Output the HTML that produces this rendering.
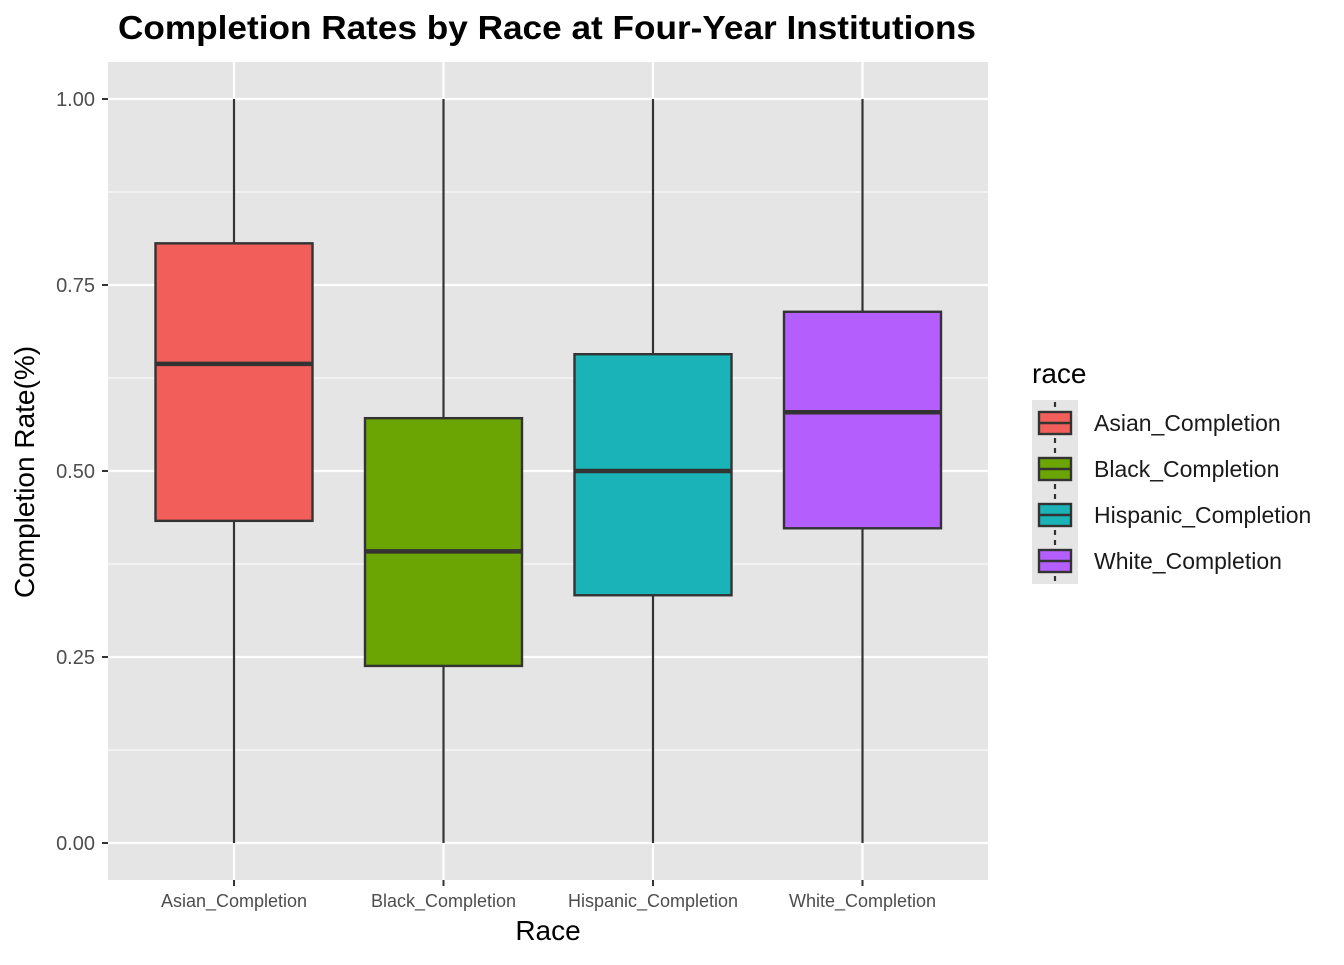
<!DOCTYPE html>
<html><head><meta charset="utf-8"><style>
body{margin:0;background:#fff;font-family:"Liberation Sans",Arial,sans-serif}
</style></head><body>
<svg id="chart" width="1344" height="960" xmlns="http://www.w3.org/2000/svg" font-family="Liberation Sans, Arial, sans-serif">
<text x="547" y="39" text-anchor="middle" font-size="33" font-weight="bold" textLength="858" lengthAdjust="spacingAndGlyphs">Completion Rates by Race at Four-Year Institutions</text>
<rect x="108" y="62" width="880" height="818" fill="#e5e5e5"/>
<g id="grid"></g>
<g id="boxes"></g>
<g id="axes"></g>
<text x="548" y="940" text-anchor="middle" font-size="28">Race</text>
<text transform="translate(34,472) rotate(-90)" text-anchor="middle" font-size="28">Completion Rate(%)</text>
<g id="legend"></g>
</svg>
<script>
const categories=["Asian_Completion","Black_Completion","Hispanic_Completion","White_Completion"];
const fills=["#f25f5a","#6ba503","#19b3b8","#b45ffd"];
const mins=[0,0,0,0];
const q1s=[0.433,0.238,0.333,0.423];
const medians=[0.644,0.392,0.5,0.579];
const q3s=[0.806,0.571,0.657,0.714];
const maxs=[1,1,1,1];
const yTicks=[0,0.25,0.5,0.75,1];
const yTickLabels=["0.00","0.25","0.50","0.75","1.00"];
const NS="http://www.w3.org/2000/svg";
const y=v=>843-v*744;
const x=i=>234+i*209.5;
const bw=157;
function mk(tag,attrs,parent){const e=document.createElementNS(NS,tag);for(const k in attrs)e.setAttribute(k,attrs[k]);parent.appendChild(e);return e;}
const grid=document.getElementById('grid'),boxes=document.getElementById('boxes'),axes=document.getElementById('axes'),legend=document.getElementById('legend');
for(let i=0;i<yTicks.length-1;i++){const m=(yTicks[i]+yTicks[i+1])/2;
const l=mk('line',{x1:108,x2:988,y1:y(m),y2:y(m),stroke:'#fff','stroke-width':1},grid);

}
yTicks.forEach((t,i)=>{
const l=mk('line',{x1:108,x2:988,y1:y(t),y2:y(t),stroke:'#fff','stroke-width':2.2},grid);


const tk=mk('line',{x1:102,x2:108,y1:y(t),y2:y(t),stroke:'#333','stroke-width':2},axes);


const tx=mk('text',{x:95,y:y(t)+7,'text-anchor':'end','font-size':20,fill:'#4d4d4d'},axes);tx.textContent=yTickLabels[i];


});
categories.forEach((c,i)=>{
const vl=mk('line',{x1:x(i),x2:x(i),y1:62,y2:880,stroke:'#fff','stroke-width':2.2},grid);


const g=mk('g',{},boxes);


mk('line',{x1:x(i),x2:x(i),y1:y(maxs[i]),y2:y(q3s[i]),stroke:'#333','stroke-width':2.2},g);
mk('line',{x1:x(i),x2:x(i),y1:y(q1s[i]),y2:y(mins[i]),stroke:'#333','stroke-width':2.2},g);
mk('rect',{x:x(i)-bw/2,y:y(q3s[i]),width:bw,height:y(q1s[i])-y(q3s[i]),fill:fills[i],stroke:'#333','stroke-width':2.4},g);
mk('line',{x1:x(i)-bw/2,x2:x(i)+bw/2,y1:y(medians[i]),y2:y(medians[i]),stroke:'#333','stroke-width':4.5},g);
const tk=mk('line',{x1:x(i),x2:x(i),y1:880,y2:886,stroke:'#333','stroke-width':2},axes);


const tx=mk('text',{x:x(i),y:907,'text-anchor':'middle','font-size':18,fill:'#4d4d4d'},axes);tx.textContent=c;


const lg=mk('g',{},legend);


const ly=400+i*46;
mk('rect',{x:1032,y:ly,width:46,height:46,fill:'#e5e5e5'},lg);
mk('line',{x1:1055,x2:1055,y1:ly+2,y2:ly+44,stroke:'#333','stroke-width':2.2,'stroke-dasharray':'5 4'},lg);
mk('rect',{x:1039,y:ly+12,width:32,height:22,fill:fills[i],stroke:'#333','stroke-width':2.4},lg);
mk('line',{x1:1039,x2:1071,y1:ly+23,y2:ly+23,stroke:'#333','stroke-width':2.4},lg);
const lt=mk('text',{x:1094,y:ly+31,'font-size':23,fill:'#1a1a1a'},lg);lt.textContent=c;
});
const lt=mk('text',{x:1032,y:383,'font-size':28},legend);lt.textContent='race';


</script>
</body></html>
